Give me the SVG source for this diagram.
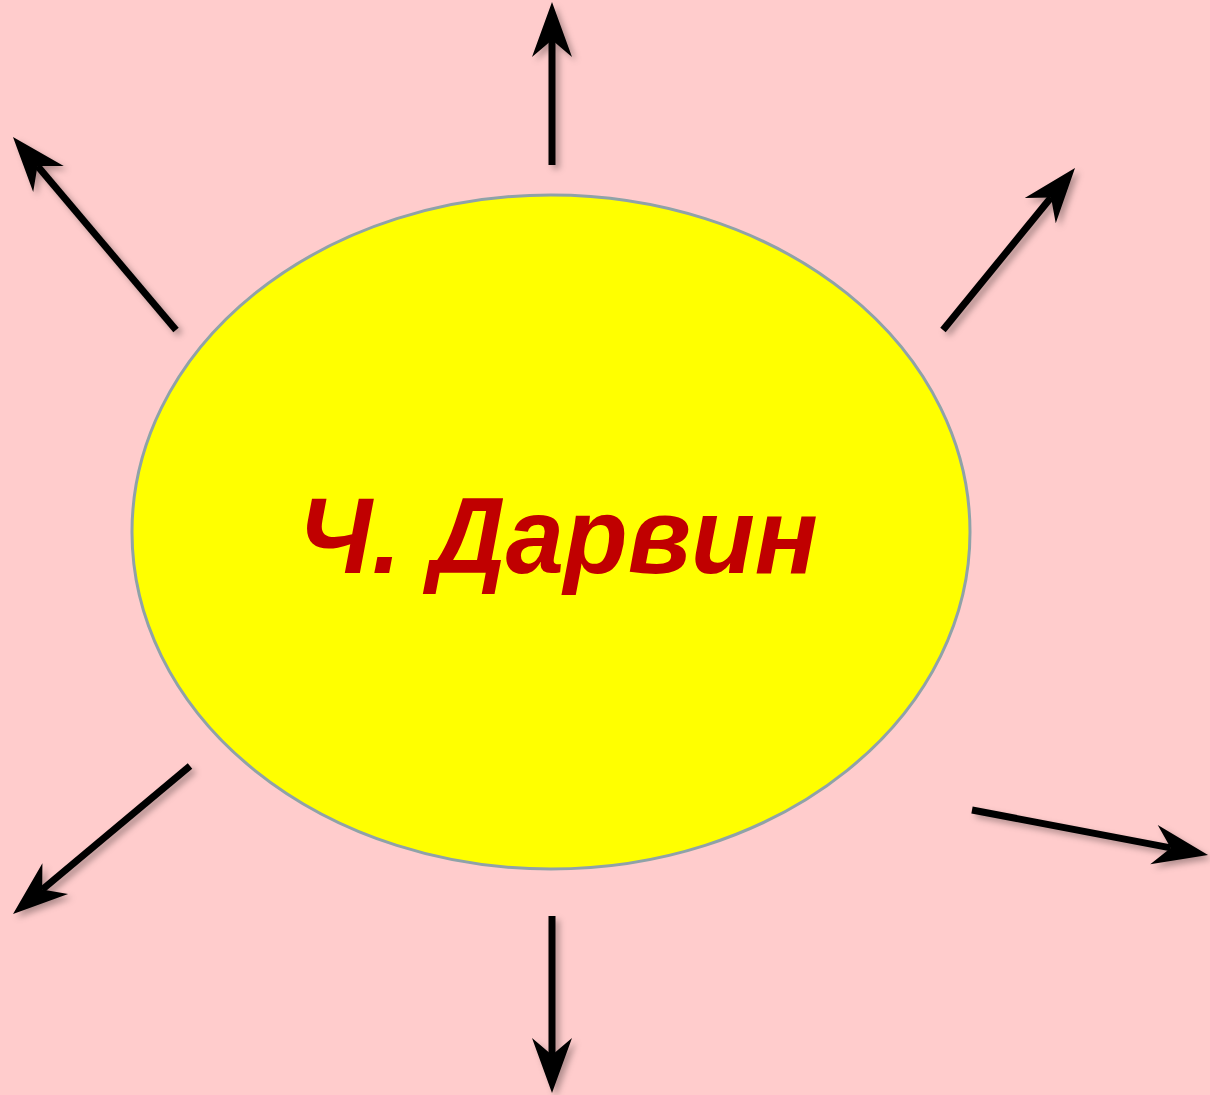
<svg xmlns="http://www.w3.org/2000/svg" width="1210" height="1095" viewBox="0 0 1210 1095">
<defs>
<style>
.arr{stroke:#000;stroke-width:7;fill:none;marker-end:url(#ah)}
.lbl{font-family:"Liberation Sans",Arial,sans-serif;font-weight:bold;font-style:italic;font-size:108px;fill:#c00000}
</style>
<filter id="sh" filterUnits="userSpaceOnUse" x="0" y="0" width="1210" height="1095">
<feDropShadow dx="4" dy="4" stdDeviation="3" flood-color="#000" flood-opacity="0.3"/>
</filter>
<marker id="ah" markerUnits="userSpaceOnUse" markerWidth="70" markerHeight="50" viewBox="-22 -25 70 50" refX="0" refY="0" orient="auto" overflow="visible">
<path d="M38,0 L-17,-20 L0,0 L-17,20 Z" fill="#000"/>
</marker>
</defs>
<rect width="1210" height="1095" fill="#ffcccc"/>
<g id="center">
<ellipse cx="551" cy="532" rx="419" ry="337" fill="#ffff00" stroke="#8fa2a8" stroke-width="3"/>
<text class="lbl" x="558" y="573" text-anchor="middle" textLength="520" lengthAdjust="spacingAndGlyphs">Ч. Дарвин</text>
</g>
<g id="connectors" filter="url(#sh)">
<line class="arr" x1="552" y1="165" x2="552" y2="40"/>
<line class="arr" x1="176" y1="330" x2="37.5" y2="166"/>
<line class="arr" x1="943" y1="330" x2="1051" y2="197.5"/>
<line class="arr" x1="190" y1="766" x2="42.2" y2="889.6"/>
<line class="arr" x1="972" y1="810" x2="1170.7" y2="847.9"/>
<line class="arr" x1="552" y1="916" x2="552" y2="1055"/>
</g>
</svg>
